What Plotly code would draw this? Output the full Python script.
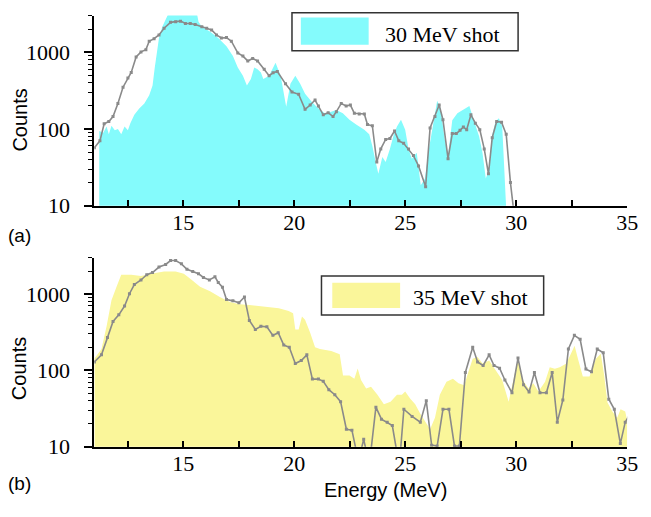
import plotly.graph_objects as go

# ---------------- data ----------------
# (a) 30 MeV shot: fine spectrum (filled) and binned spectrum (grey line)
a_fill_E = [11.22, 11.4, 11.55, 11.65, 11.77, 11.92, 12.06, 12.21, 12.36, 12.51, 12.62, 12.8, 13.02, 13.25,
            13.47, 13.62, 13.72, 13.81, 13.91, 14.06, 14.21, 14.36, 15.61, 15.69, 15.84, 16.2, 16.58, 16.95,
            17.24, 17.46, 17.69, 17.87, 18.05, 18.2, 18.35, 18.5, 18.61, 18.87, 19.16, 19.39, 19.64, 19.83,
            20.05, 20.27, 20.49, 20.79, 21.09, 21.38, 21.67, 21.9, 22.19, 22.49, 22.79, 23.16, 23.38, 23.52,
            23.67, 23.79, 23.97, 24.12, 24.31, 24.49, 24.63, 24.81, 25.0, 25.15, 25.3, 25.52, 25.7, 25.89,
            26.04, 26.19, 26.34, 26.44, 26.59, 26.78, 26.93, 27.12, 27.35, 27.6, 27.89, 28.11, 28.33, 28.48,
            28.63, 28.78, 28.9, 29.07, 29.22, 29.37, 29.49, 29.55]
a_fill_C = [94, 89, 108, 85, 110, 96, 100, 85, 108, 96, 119, 153, 185, 215,
            275, 369, 630, 1030, 1530, 2150, 2750, 3300, 3300, 2500, 2150, 1860, 1530, 1200,
            890, 630, 495, 369, 448, 630, 600, 545, 448, 495, 730, 495, 195, 387,
            495, 387, 288, 226, 185, 160, 168, 177, 160, 132, 114, 98, 85, 60,
            37, 26, 43, 37, 55, 85, 108, 132, 98, 55, 41, 49, 18.5, 22.6,
            49, 89, 145, 233, 185, 73, 45, 130, 160, 175, 199, 125, 80, 49,
            22.6, 30, 80, 125, 138, 108, 27, 9]
a_line_E = [11.0, 11.25, 11.44, 11.65, 11.84, 12.06, 12.29, 12.51, 12.66, 12.88, 13.1, 13.32, 13.47, 13.69,
            13.91, 14.14, 14.43, 14.66, 14.88, 15.1, 15.32, 15.54, 15.84, 16.06, 16.28, 16.5, 16.72, 16.95,
            17.17, 17.46, 17.69, 17.91, 18.13, 18.35, 18.65, 18.87, 19.05, 19.24, 19.61, 19.9, 20.2, 20.49,
            20.72, 20.94, 21.09, 21.31, 21.53, 21.75, 21.9, 22.12, 22.34, 22.53, 22.71, 22.93, 23.16, 23.3,
            23.52, 23.72, 23.9, 24.12, 24.31, 24.52, 24.71, 24.93, 25.15, 25.37, 25.6, 25.92, 26.12, 26.34,
            26.53, 26.7, 26.93, 27.12, 27.3, 27.47, 27.62, 27.77, 27.96, 28.16, 28.36, 28.56, 28.75, 28.92,
            29.12, 29.34, 29.55, 29.74, 29.9]
a_line_C = [57, 70, 117, 125, 145, 215, 350, 460, 545, 865, 1010, 1080, 1390, 1500,
            1680, 2050, 2450, 2500, 2540, 2370, 2370, 2300, 2150, 2050, 1950, 1680, 1530, 1550,
            1390, 980, 890, 770, 830, 770, 600, 495, 540, 560, 387, 303, 283, 180,
            205, 238, 199, 153, 163, 145, 168, 215, 199, 205, 160, 157, 157, 114,
            110, 37, 55, 73, 75, 94, 70, 65, 55, 45, 33, 17.7, 103, 145,
            205, 132, 41, 87, 87, 96, 106, 98, 153, 119, 98, 55, 26, 77,
            125, 122, 85, 20, 8]

# (b) 35 MeV shot
b_fill_E = [11.0, 11.32, 11.55, 11.77, 11.99, 12.21, 12.66, 13.1, 13.55, 14.14, 14.66, 15.03, 15.39, 15.76,
            16.21, 16.65, 17.1, 17.54, 17.98, 18.43, 18.9, 19.31, 19.75, 19.95, 20.05, 20.2, 20.35, 20.49,
            20.72, 20.94, 21.16, 21.67, 22.05, 22.2, 22.49, 22.71, 22.86, 23.01, 23.24, 23.46, 23.75, 24.04,
            24.34, 24.63, 24.85, 25.0, 25.22, 25.45, 25.68, 25.89, 26.12, 26.34, 26.56, 26.86, 27.15, 27.4,
            27.66, 27.8, 28.04, 28.26, 28.48, 28.78, 29.07, 29.37, 29.66, 29.88, 30.08, 30.26, 30.55, 30.77,
            31.0, 31.3, 31.51, 31.74, 31.96, 32.26, 32.48, 32.63, 32.78, 33.0, 33.3, 33.59, 33.81, 33.96,
            34.11, 34.33, 34.55, 34.7, 34.91, 35.0]
b_fill_C = [142, 191, 379, 830, 1230, 1790, 1790, 1730, 1850, 1970, 1970, 1850, 1530, 1250,
            1090, 916, 790, 738, 718, 697, 682, 650, 600, 560, 344, 344, 508, 461,
            312, 201, 191, 180, 163, 86, 86, 78, 106, 75, 58, 61, 48, 36,
            39, 48, 48, 53, 43, 36, 27, 22, 17, 24, 48, 71, 78, 68,
            64, 87, 142, 150, 123, 135, 101, 75, 39, 78, 142, 78, 58, 68,
            53, 71, 110, 105, 110, 123, 173, 210, 142, 83, 83, 142, 165, 87,
            38, 29, 24, 31, 29, 22]
b_line_E = [11.0, 11.32, 11.59, 11.84, 12.1, 12.36, 12.58, 12.8, 13.1, 13.36, 13.62, 13.91, 14.21, 14.43,
            14.66, 14.92, 15.17, 15.43, 15.69, 15.91, 16.18, 16.43, 16.58, 16.77, 16.95, 17.24, 17.51, 17.76,
            17.98, 18.25, 18.5, 18.77, 19.04, 19.28, 19.53, 19.78, 20.05, 20.32, 20.57, 20.82, 21.09, 21.31,
            21.56, 21.83, 22.09, 22.35, 22.6, 22.79, 23.01, 23.13, 23.24, 23.46, 23.68, 23.93, 24.19, 24.42,
            24.61, 24.79, 24.94, 25.31, 25.68, 25.95, 26.19, 26.44, 26.7, 26.97, 27.22, 27.44, 27.71, 28.04,
            28.26, 28.51, 28.78, 29.0, 29.25, 29.49, 29.81, 30.08, 30.33, 30.58, 30.82, 31.07, 31.36, 31.62,
            31.85, 32.1, 32.35, 32.62, 32.88, 33.14, 33.39, 33.65, 33.92, 34.17, 34.42, 34.69, 34.91, 35.13]
b_line_C = [129, 160, 269, 438, 534, 697, 1010, 1330, 1530, 1790, 1910, 2260, 2440, 2750,
            2750, 2490, 2110, 1970, 1850, 1650, 1530, 1680, 1420, 1230, 848, 815, 768, 916,
            452, 344, 379, 372, 288, 312, 215, 201, 123, 135, 160, 77, 77, 72,
            56, 48, 39, 17, 16.5, 9, 9, 12.5, 9, 9, 33, 23, 21, 19,
            9, 9, 31, 25, 21, 40, 10.5, 10.2, 31, 31, 10.2, 10.2, 94, 201,
            129, 116, 160, 116, 107, 75, 51, 145, 65, 52, 94, 51, 51, 94,
            21, 41, 191, 288, 256, 104, 96, 191, 170, 42, 31, 11, 21, 27]

x_tickvals = [15, 20, 25, 30, 35]
x_minor = [12.5, 17.5, 22.5, 27.5, 32.5]
y_tickvals = [10, 100, 1000]
y_ticktext = ["10", "100", "1000"]
y_minor = [20, 30, 40, 50, 60, 70, 80, 90, 200, 300, 400, 500, 600, 700, 800, 900, 2000, 3000]

CYAN = "#84FBFC"
YELLOW = "#FAF69A"
GREY = "#8A8A8A"
SERIF = "Times New Roman"
SANS = "Liberation Sans, Arial, sans-serif"

fig = go.Figure()

fig.add_trace(go.Scatter(x=a_fill_E, y=a_fill_C, mode="lines", fill="tozeroy",
                         line=dict(width=0, color=CYAN), fillcolor=CYAN,
                         xaxis="x", yaxis="y", name="30 MeV shot", showlegend=False))
fig.add_trace(go.Scatter(x=a_line_E, y=a_line_C, mode="lines+markers",
                         line=dict(width=1.6, color=GREY), marker=dict(size=3, symbol="square", color=GREY),
                         xaxis="x", yaxis="y", showlegend=False))
fig.add_trace(go.Scatter(x=b_fill_E, y=b_fill_C, mode="lines", fill="tozeroy",
                         line=dict(width=0, color=YELLOW), fillcolor=YELLOW,
                         xaxis="x2", yaxis="y2", name="35 MeV shot", showlegend=False))
fig.add_trace(go.Scatter(x=b_line_E, y=b_line_C, mode="lines+markers",
                         line=dict(width=1.6, color=GREY), marker=dict(size=3, symbol="square", color=GREY),
                         xaxis="x2", yaxis="y2", showlegend=False))

W, H = 651, 517
xdom = [96 / W, 638 / W]
ydom_a = [(H - 211) / H, (H - 16) / H]
ydom_b = [(H - 458.3) / H, (H - 264.3) / H]
TICKFONT = dict(family=SERIF, size=22, color="black")

def xaxis(anchor):
    return dict(domain=xdom, anchor=anchor, range=[11, 35], showgrid=False, zeroline=False,
                showline=True, linecolor="black", linewidth=2,
                tickmode="array", tickvals=x_tickvals, ticks="inside", ticklen=6, tickwidth=1.6,
                tickcolor="black", tickfont=TICKFONT,
                ticklabelstandoff=-4, ticklabeloverflow="allow",
                minor=dict(tickmode="array", tickvals=x_minor, ticks="inside", ticklen=6,
                           tickwidth=1.6, tickcolor="black", showgrid=False))

def yaxis(anchor, dom):
    return dict(domain=dom, anchor=anchor, type="log", range=[1, 3.477], showgrid=False, zeroline=False,
                showline=True, linecolor="black", linewidth=2,
                tickmode="array", tickvals=y_tickvals, ticktext=y_ticktext, ticks="outside", ticklen=8,
                tickwidth=1.6, tickcolor="black", tickfont=TICKFONT,
                ticklabelstandoff=10,
                minor=dict(tickmode="array", tickvals=y_minor, ticks="outside", ticklen=4,
                           tickwidth=1.2, tickcolor="black", showgrid=False))

shapes = []
annotations = []

def px(x):
    return x / W

def py(y):
    return (H - y) / H

# legend boxes (drawn manually)
for (x0, y0, x1, y1, sx0, sy0, sx1, sy1, col, tx, ty, txt) in [
    (297, 13, 527, 52, 306, 18, 375, 46, CYAN, 450, 35, "30 MeV shot"),
    (327, 283, 553, 323, 338, 290, 407, 316, YELLOW, 479, 305, "35 MeV shot"),
]:
    shapes.append(dict(type="rect", xref="paper", yref="paper", x0=px(x0), x1=px(x1), y0=py(y1), y1=py(y0),
                       line=dict(color="#333333", width=1.5), fillcolor="white", layer="above"))
    shapes.append(dict(type="rect", xref="paper", yref="paper", x0=px(sx0), x1=px(sx1), y0=py(sy1), y1=py(sy0),
                       line=dict(width=0), fillcolor=col, layer="above"))
    annotations.append(dict(text=txt, xref="paper", yref="paper", x=px(tx), y=py(ty), showarrow=False,
                            xanchor="center", yanchor="middle",
                            font=dict(family=SERIF, size=22, color="black")))

for cy in [123, 378]:
    annotations.append(dict(text="Counts", xref="paper", yref="paper", x=px(20), y=py(cy), showarrow=False,
                            textangle=-90, xanchor="center", yanchor="middle",
                            font=dict(family=SANS, size=20, color="black")))

annotations.append(dict(text="(a)", xref="paper", yref="paper", x=px(20), y=py(242), showarrow=False,
                        xanchor="center", yanchor="middle", font=dict(family=SANS, size=19, color="black")))
annotations.append(dict(text="(b)", xref="paper", yref="paper", x=px(20), y=py(496), showarrow=False,
                        xanchor="center", yanchor="middle", font=dict(family=SANS, size=19, color="black")))
annotations.append(dict(text="Energy (MeV)", xref="paper", yref="paper", x=px(392), y=py(503), showarrow=False,
                        xanchor="center", yanchor="middle", font=dict(family=SANS, size=20, color="black")))

fig.update_layout(
    width=W, height=H, margin=dict(l=0, r=0, t=0, b=0),
    font=dict(family=SERIF, color="black"),
    paper_bgcolor="white", plot_bgcolor="white", showlegend=False,
    xaxis=xaxis("y"), yaxis=yaxis("x", ydom_a),
    xaxis2=xaxis("y2"), yaxis2=yaxis("x2", ydom_b),
    shapes=shapes, annotations=annotations,
)

fig.write_html("out.html", config={"displayModeBar": False},
               post_script="document.body.style.margin='0px';")
